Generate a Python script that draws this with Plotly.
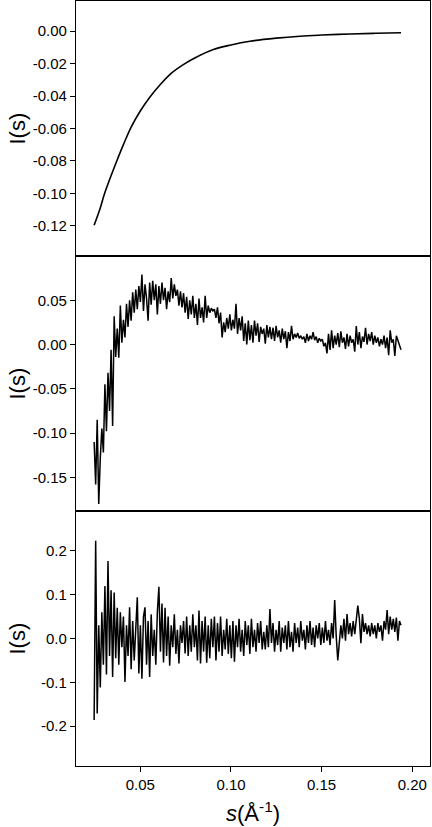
import numpy as np
import plotly.graph_objects as go
from plotly.subplots import make_subplots

# ---- Data ----
s_top = [0.0245, 0.0278, 0.0300, 0.0333, 0.0370, 0.0406, 0.0450, 0.0498, 0.0550,
         0.0609, 0.0670, 0.0737, 0.0800, 0.0903, 0.1000, 0.1105, 0.1250, 0.1381,
         0.1500, 0.1657, 0.1800, 0.1938]
I_top = [-0.1196, -0.1093, -0.1010, -0.0907, -0.0800, -0.0701, -0.0590, -0.0495, -0.0410,
         -0.0330, -0.0260, -0.0206, -0.0165, -0.0113, -0.0085, -0.0062, -0.0043, -0.0031,
         -0.0024, -0.0017, -0.0013, -0.0010]

s_start = 0.0245
s_end = 0.1938
n_pts = 200

I_mid = [
    -0.110, -0.158, -0.085, -0.180, -0.128, -0.095, -0.122, -0.045, -0.098, -0.032,
    -0.075, -0.006, -0.092, 0.032, -0.014, 0.018, -0.015, 0.044, 0.002, 0.028,
    0.008, 0.046, 0.020, 0.050, 0.027, 0.059, 0.036, 0.062, 0.040, 0.066,
    0.048, 0.079, 0.038, 0.068, 0.052, 0.027, 0.070, 0.045, 0.072, 0.050,
    0.068, 0.034, 0.066, 0.046, 0.070, 0.050, 0.064, 0.040, 0.060, 0.048,
    0.075, 0.052, 0.068, 0.055, 0.062, 0.044, 0.060, 0.042, 0.058, 0.036,
    0.054, 0.029, 0.050, 0.034, 0.055, 0.030, 0.046, 0.022, 0.052, 0.030,
    0.042, 0.025, 0.055, 0.030, 0.044, 0.036, 0.041, 0.038, 0.040, 0.030,
    0.042, 0.024, 0.036, 0.008, 0.025, 0.014, 0.030, 0.018, 0.034, 0.016,
    0.028, 0.018, 0.046, 0.012, 0.030, 0.016, 0.032, 0.004, 0.024, 0.000,
    0.027, 0.005, 0.022, 0.002, 0.027, 0.010, 0.024, 0.003, 0.020, 0.012,
    0.018, 0.001, 0.022, 0.008, 0.020, 0.006, 0.019, 0.004, 0.021, 0.008,
    0.016, 0.002, 0.018, 0.006, 0.015, -0.004, 0.014, 0.004, 0.021, 0.006,
    0.012, 0.008, 0.013, 0.007, 0.010, 0.006, 0.009, 0.002, 0.012, 0.004,
    0.010, 0.006, 0.014, 0.005, 0.009, 0.002, 0.007, 0.004, 0.006, -0.002,
    0.002, -0.010, 0.012, -0.006, 0.016, -0.004, 0.010, 0.000, 0.013, -0.003,
    0.015, 0.002, 0.008, -0.005, 0.012, -0.002, 0.010, 0.002, 0.006, -0.008,
    0.021, 0.000, 0.014, -0.004, 0.009, 0.003, 0.019, 0.000, 0.012, 0.004,
    0.014, 0.000, 0.010, 0.002, 0.008, -0.002, 0.006, 0.000, 0.010, -0.004,
    0.008, -0.012, 0.016, 0.002, 0.006, -0.013, 0.010, 0.005, 0.000, -0.006,
]

I_bot = [
    -0.186, 0.223, -0.171, 0.030, -0.112, 0.060, -0.060, 0.120, -0.082, 0.177,
    -0.040, 0.110, -0.088, 0.105, -0.045, 0.070, -0.060, 0.060, -0.020, 0.050,
    -0.099, 0.030, -0.040, 0.071, -0.070, 0.040, -0.050, 0.020, 0.094, -0.080,
    0.030, -0.092, 0.050, 0.071, -0.060, 0.040, -0.088, 0.055, -0.040, 0.020,
    -0.060, 0.060, 0.118, -0.030, 0.080, -0.055, 0.070, -0.040, 0.050, -0.062,
    0.030, -0.020, 0.055, -0.035, 0.020, -0.057, 0.030, -0.010, 0.040, -0.034,
    0.050, -0.040, 0.030, -0.030, 0.055, -0.020, 0.030, -0.050, 0.064, -0.057,
    0.040, -0.030, 0.050, -0.055, 0.030, -0.045, 0.045, -0.020, 0.050, -0.050,
    0.035, -0.030, 0.050, -0.040, 0.020, -0.025, 0.045, -0.035, 0.030, -0.045,
    0.040, -0.053, 0.030, -0.020, 0.045, -0.030, 0.020, -0.040, 0.040, -0.015,
    0.030, -0.035, 0.045, -0.020, 0.020, -0.030, 0.035, -0.010, 0.040, -0.025,
    0.015, -0.025, 0.030, -0.020, 0.067, -0.010, 0.035, -0.030, 0.020, -0.015,
    0.040, -0.030, 0.025, -0.010, 0.030, -0.025, 0.040, -0.020, 0.015, -0.030,
    0.035, -0.010, 0.025, -0.020, 0.040, -0.005, 0.020, -0.025, 0.030, -0.010,
    0.040, -0.015, 0.025, -0.020, 0.030, 0.000, 0.035, -0.015, 0.025, -0.010,
    0.040, -0.005, 0.020, -0.015, 0.035, 0.000, 0.088, 0.005, -0.050, -0.010,
    0.030, 0.000, 0.045, -0.005, 0.056, 0.010, 0.035, 0.005, 0.040, 0.010,
    0.040, 0.075, 0.045, -0.011, 0.056, 0.015, 0.035, 0.010, 0.030, 0.005,
    0.035, 0.010, 0.030, 0.000, 0.035, 0.015, 0.030, -0.005, 0.040, 0.020,
    0.065, 0.010, 0.050, 0.020, 0.045, 0.015, 0.048, -0.005, 0.040, 0.030,
]

s_grid = np.linspace(s_start, s_end, n_pts)

x_ticks = [0.05, 0.10, 0.15, 0.20]
x_ticktext = ["0.05", "0.10", "0.15", "0.20"]
top_ticks = [0.00, -0.02, -0.04, -0.06, -0.08, -0.10, -0.12]
top_ticktext = ["0.00", "-0.02", "-0.04", "-0.06", "-0.08", "-0.10", "-0.12"]
mid_ticks = [0.05, 0.00, -0.05, -0.10, -0.15]
mid_ticktext = ["0.05", "0.00", "-0.05", "-0.10", "-0.15"]
bot_ticks = [0.2, 0.1, 0.0, -0.1, -0.2]
bot_ticktext = ["0.2", "0.1", "0.0", "-0.1", "-0.2"]

# ---- Figure ----
fig = make_subplots(rows=3, cols=1, shared_xaxes=True, vertical_spacing=0)

fig.add_trace(go.Scatter(x=s_top, y=I_top, mode="lines", line_shape="spline",
                         line=dict(color="black", width=1.6), showlegend=False), row=1, col=1)
fig.add_trace(go.Scatter(x=s_grid, y=I_mid, mode="lines",
                         line=dict(color="black", width=1.5), showlegend=False), row=2, col=1)
fig.add_trace(go.Scatter(x=s_grid, y=I_bot, mode="lines",
                         line=dict(color="black", width=1.5), showlegend=False), row=3, col=1)

font_family = "Liberation Sans, Arial, sans-serif"
axis_common = dict(showline=True, mirror=True, linecolor="black", linewidth=1.3,
                   showgrid=False, zeroline=False,
                   tickfont=dict(family=font_family, size=15, color="black"))

for r in (1, 2, 3):
    fig.update_xaxes(range=[0.0145, 0.2098], tickvals=x_ticks, ticktext=x_ticktext,
                     **axis_common, row=r, col=1)
fig.update_xaxes(ticks="", showticklabels=False, row=1, col=1)
fig.update_xaxes(ticks="", showticklabels=False, row=2, col=1)
fig.update_xaxes(ticks="outside", ticklen=5, tickwidth=1.2, tickcolor="black",
                 showticklabels=True, row=3, col=1)

fig.update_yaxes(range=[-0.1386, 0.0186], tickvals=top_ticks, ticktext=top_ticktext,
                 ticks="outside", ticklen=5, tickwidth=1.2, tickcolor="black",
                 **axis_common, row=1, col=1)
fig.update_yaxes(range=[-0.188, 0.100], tickvals=mid_ticks, ticktext=mid_ticktext,
                 ticks="outside", ticklen=5, tickwidth=1.2, tickcolor="black",
                 **axis_common, row=2, col=1)
fig.update_yaxes(range=[-0.291, 0.291], tickvals=bot_ticks, ticktext=bot_ticktext,
                 ticks="outside", ticklen=5, tickwidth=1.2, tickcolor="black",
                 **axis_common, row=3, col=1)

# Y titles as annotations
plot_w = 432 - 76 - 2
x_title = (17 - 76) / plot_w
for yc in (5 / 6, 0.5, 1 / 6):
    fig.add_annotation(text="I(s)", xref="paper", yref="paper", x=x_title, y=yc,
                       textangle=-90, showarrow=False, xanchor="center", yanchor="middle",
                       font=dict(family=font_family, size=22, color="black"))

fig.add_annotation(text="<i>s</i>(Å<sup>-1</sup>)", xref="paper", yref="paper",
                   x=0.5, y=(766 - 812) / 765, showarrow=False,
                   xanchor="center", yanchor="middle",
                   font=dict(family=font_family, size=22, color="black"))

fig.update_layout(width=432, height=827,
                  margin=dict(l=76, r=2, t=1, b=61),
                  paper_bgcolor="white", plot_bgcolor="white",
                  showlegend=False)

fig.write_html("out.html", config={"displayModeBar": False},
               post_script="document.body.style.margin='0px';")
